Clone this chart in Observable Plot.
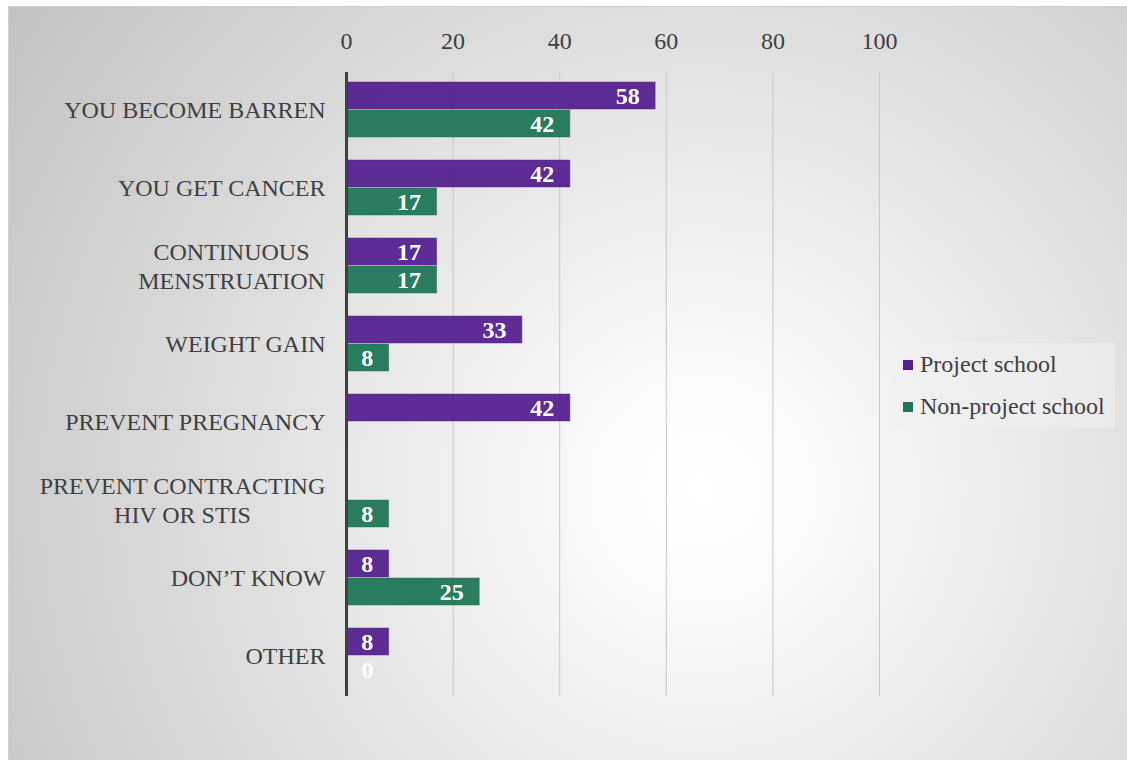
<!DOCTYPE html>
<html>
<head>
<meta charset="utf-8">
<script src="https://cdn.jsdelivr.net/npm/d3@7"></script>
<script src="https://cdn.jsdelivr.net/npm/@observablehq/plot@0.6"></script>
<style>
  html, body { margin: 0; padding: 0; background: #fff; }
  #wrap { position: relative; width: 1127px; height: 760px; overflow: hidden; font-family: "Liberation Serif", "Times New Roman", serif; }
  #bg { position: absolute; left: 8px; top: 6px; right: 0; bottom: 0;
        border-left: 1px solid #d0d0d0; border-top: 1px solid #d0d0d0;
        background: radial-gradient(circle at 62% 64%, #ffffff 0%, #fbfbfb 12%, #c2c2c2 100%); }
  #chart { position: absolute; left: 0; top: 0; }
  #legend { position: absolute; left: 890px; top: 343px; width: 225px; height: 85px;
            background: rgba(240,240,240,0.55); font-size: 24px; color: #404040; }
  .item { position: absolute; left: 13px; display: flex; align-items: center; white-space: nowrap; }
  .sw { width: 10px; height: 10px; margin-right: 7px; }
</style>
</head>
<body>
<div id="wrap">
  <div id="bg"></div>
  <div id="chart"></div>
  <div id="legend"></div>
</div>
<script>
const categories = [
  "YOU BECOME BARREN",
  "YOU GET CANCER",
  "CONTINUOUS\nMENSTRUATION",
  "WEIGHT GAIN",
  "PREVENT PREGNANCY",
  "PREVENT CONTRACTING\nHIV OR STIS",
  "DON’T KNOW",
  "OTHER"
];
const seriesNames = ["Project school", "Non-project school"];
const projectSchool = [58, 42, 17, 33, 42, null, 8, 8];
const nonProjectSchool = [42, 17, 17, 8, null, 8, 25, 0];
const xTicks = [0, 20, 40, 60, 80, 100];
const colors = ["#55218f", "#1f7656"];

const rows = categories.flatMap((c, i) => [
  {cat: c, series: seriesNames[0], value: projectSchool[i]},
  {cat: c, series: seriesNames[1], value: nonProjectSchool[i]}
]).filter(d => d.value != null);

const font = "'Liberation Serif', 'Times New Roman', serif";
const labelOpts = {fy: d => d, text: d => d, frameAnchor: "left", fill: "#404040", fontSize: 24, lineHeight: 1.2};

const plot = Plot.plot({
  width: 1127,
  height: 760,
  marginLeft: 346,
  marginRight: 248,
  marginTop: 70,
  marginBottom: 62,
  style: {background: "transparent", fontFamily: font, fontSize: "24px", color: "#404040", overflow: "visible"},
  x: {domain: [0, 100], axis: null, label: null},
  y: {domain: seriesNames, axis: null, paddingInner: 0.03, paddingOuter: 0.37},
  fy: {domain: categories, axis: null, padding: 0, label: null},
  color: {domain: seriesNames, range: colors},
  marks: [
    ...categories.map(c => Plot.ruleX(xTicks.slice(1), {fy: () => c, x: d => d, stroke: "#c8c8c8", strokeWidth: 1})),
    Plot.axisX(xTicks, {anchor: "top", label: null, tickSize: 0, tickPadding: 24, fontSize: 24, fill: "#404040", tickFormat: d => String(d)}),
    Plot.barX(rows, {fy: "cat", y: "series", x: "value", fill: "series", fillOpacity: 0.95, stroke: "series", strokeOpacity: 0.45, strokeWidth: 1, dy: -1}),
    Plot.ruleX(categories, {fy: d => d, x: () => 0, stroke: "#404040", strokeWidth: 3}),
    Plot.text(rows.filter(d => d.value > 0), {fy: "cat", y: "series", x: "value", text: d => String(d.value), textAnchor: "end", dx: -16, dy: -1, fill: "white", fontWeight: "bold", fontSize: 24}),
    Plot.text(rows.filter(d => d.value === 0), {fy: "cat", y: "series", x: "value", text: d => String(d.value), textAnchor: "start", dx: 15, dy: -1, fill: "white", fontWeight: "bold", fontSize: 24}),
    Plot.text(categories.filter(c => !c.includes("\n")), {...labelOpts, textAnchor: "end", dx: -21, dy: -3}),
    Plot.text([categories[2]], {...labelOpts, textAnchor: "middle", dx: -115, dy: -2}),
    Plot.text([categories[5]], {...labelOpts, textAnchor: "middle", dx: -164, dy: -2})
  ]
});
document.getElementById("chart").appendChild(plot);

const legend = document.getElementById("legend");
seriesNames.forEach((s, i) => {
  const item = document.createElement("div");
  item.className = "item";
  item.style.top = (i === 0 ? 8 : 50) + "px";
  const sw = document.createElement("span");
  sw.className = "sw";
  sw.style.background = colors[i];
  const t = document.createElement("span");
  t.textContent = s;
  item.appendChild(sw);
  item.appendChild(t);
  legend.appendChild(item);
});
</script>
</body>
</html>
